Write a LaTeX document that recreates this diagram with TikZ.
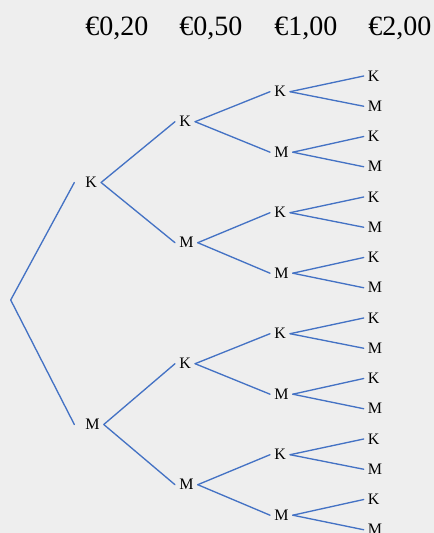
\documentclass[tikz,border=0pt]{standalone}
\usepackage{fontspec}
\setmainfont{Liberation Serif}
\usepackage{tikz}
\definecolor{treeblue}{HTML}{4472C4}
\definecolor{paper}{HTML}{EEEEEE}
\tikzset{
  coin/.style={anchor=base west,inner sep=0pt,font=\fontsize{21}{25}\selectfont},
  side/.style={anchor=west,inner xsep=3pt,inner ysep=1pt,font=\fontsize{12}{14}\selectfont},
  branch/.style={color=treeblue,line width=1pt},
}
\begin{document}
\begin{tikzpicture}[line cap=round,line join=round,x=0.75pt,y=-0.75pt]
  \useasboundingbox[fill=paper] (0,0) rectangle (434,533);
  \clip (0,0) rectangle (434,533);
  % coin headers
  \node[coin] (h1) at (85,35.7) {€0,20};
  \node[coin] (h2) at (179,35.7) {€0,50};
  \node[coin] (h3) at (274,35.7) {€1,00};
  \node[coin] (h4) at (368,35.7) {€2,00};
  % tree nodes
  \coordinate (root) at (10.7,300);
  \node[side] (a0) at (81,182.5) {K};
  \node[side] (a1) at (81,424.5) {M};
  \foreach \k in {0,...,3}
    \node[side] (b\k) at (175,121.7+121*\k) {\ifodd\k M\else K\fi};
  \foreach \j in {0,...,7}
    \node[side] (c\j) at (270,91.7+60.5*\j) {\ifodd\j M\else K\fi};
  \foreach \i in {0,...,15}
    \node[side] (d\i) at (363.7,76+30.25*\i) {\ifodd\i M\else K\fi};
  % branches
  \draw[branch] (a0.west) ++(-5pt,0) -- (root) -- ([xshift=-5pt]a1.west);
  \foreach \k in {0,...,3}{
    \pgfmathtruncatemacro\p{\k/2}
    \draw[branch] (a\p.east) -- (b\k.west);
  }
  \foreach \j in {0,...,7}{
    \pgfmathtruncatemacro\p{\j/2}
    \draw[branch] (b\p.east) -- (c\j.west);
  }
  \foreach \i in {0,...,15}{
    \pgfmathtruncatemacro\p{\i/2}
    \draw[branch] (c\p.east) -- (d\i.west);
  }
\end{tikzpicture}
\end{document}
